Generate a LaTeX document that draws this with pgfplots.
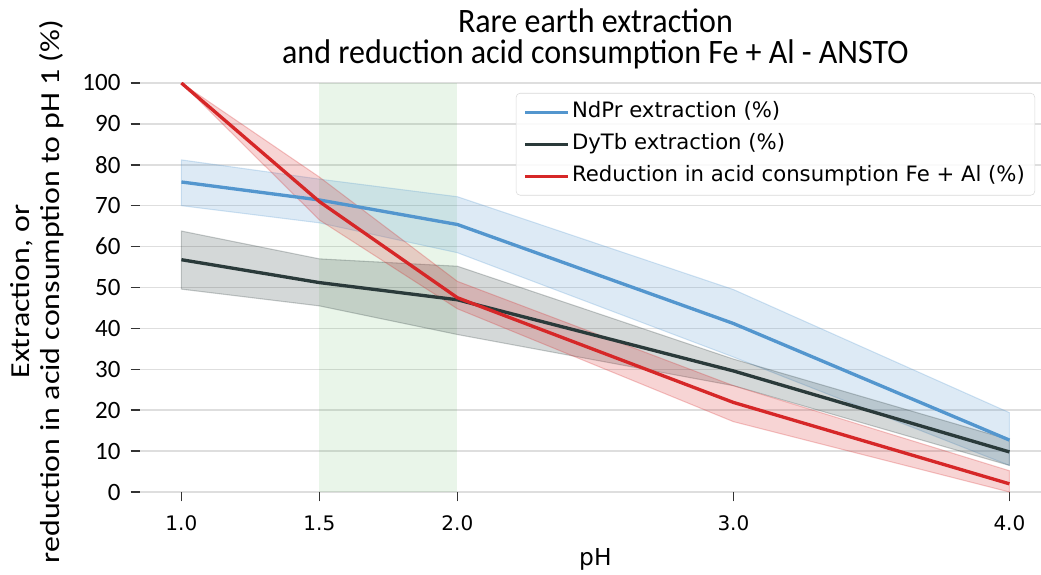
\documentclass[border=0pt]{standalone}
\usepackage{fontspec}
\setmainfont{DejaVu Sans}
\newfontfamily\carlito{Carlito}
\usepackage{pgfplots}
\pgfplotsset{compat=1.18}

\definecolor{ndpr}{RGB}{83,150,206}
\definecolor{dytb}{RGB}{42,58,58}
\definecolor{acid}{RGB}{214,39,40}
\definecolor{phband}{RGB}{44,160,44}
\definecolor{gridc}{RGB}{222,222,222}

\begin{document}
\begin{tikzpicture}
\begin{axis}[
  scale only axis, width=683.1pt, height=306.75pt,
  xmin=0.85, xmax=4.15, ymin=0, ymax=100,
  xtick={1,1.5,2,3,4}, xticklabels={1.0,1.5,2.0,3.0,4.0},
  ytick={0,10,...,100},
  ymajorgrids, grid style={gridc, line width=1.1pt},
  axis line style={draw=none},
  tick align=outside, major tick length=7pt, tick pos=left,
  tick style={black!80, line width=1.1pt},
  /pgf/number format/assume math mode=true,
  xticklabel style={font=\fontsize{15}{18}\selectfont, anchor=base, inner sep=0pt, yshift=-22pt},
  yticklabel style={font=\carlito\fontsize{18.7}{20}\selectfont, anchor=east, inner sep=0pt, xshift=-7.5pt},
  xlabel={pH},
  xlabel style={at={(axis description cs:0.5,0)}, anchor=base, yshift=-55pt, font=\fontsize{17.5}{20}\selectfont},
  ylabel={Extraction, or\\reduction in acid consumption to pH 1 (\%)},
  ylabel style={at={(axis description cs:-0.1131,0.49)}, anchor=center, align=center,
    xscale=1.16, font=\carlito\fontsize{20.6}{22.5}\selectfont},
  title={Rare earth extraction\\and reduction acid consumption Fe + Al - ANSTO},
  title style={at={(axis description cs:0.5,1)}, anchor=south, yshift=4pt, inner sep=0pt, align=center,
    yscale=1.07, font=\carlito\fontsize{24}{21.7}\selectfont},
  legend style={at={(axis description cs:0.9827,0.9756)}, anchor=north east,
    draw=black!15, rounded corners=3pt, fill=white, fill opacity=0.85, text opacity=1,
    font=\fontsize{15.9}{18}\selectfont, inner xsep=5.5pt, inner ysep=4.5pt,
    nodes={inner sep=2pt, text height=12pt, text depth=3.5pt}, row sep=4.5pt,
    /tikz/every even column/.append style={column sep=8pt}},
  legend cell align=left,
  legend image code/.code={\draw[#1] (0pt,0pt) -- (32pt,0pt);},
]

% optimal pH window
\addplot[draw=none, fill=phband, fill opacity=0.1, forget plot]
  coordinates {(1.5,0) (2,0) (2,100) (1.5,100)} -- cycle;

% uncertainty bands
\addplot[draw=ndpr, draw opacity=0.25, line width=0.8pt, fill=ndpr, fill opacity=0.2, forget plot]
  coordinates {(1,81.2) (1.5,76.5) (2,72.2) (3,49.5) (4,19.4)
               (4,6.5) (3,33.0) (2,58.5) (1.5,65.8) (1,70.0)} -- cycle;
\addplot[draw=dytb, draw opacity=0.25, line width=0.8pt, fill=dytb, fill opacity=0.2, forget plot]
  coordinates {(1,63.8) (1.5,57.0) (2,55.2) (3,32.5) (4,12.8)
               (4,6.5) (3,26.0) (2,38.5) (1.5,45.5) (1,49.6)} -- cycle;
\addplot[draw=acid, draw opacity=0.25, line width=0.8pt, fill=acid, fill opacity=0.2, forget plot]
  coordinates {(1,100) (1.5,77.0) (2,51.5) (3,26.0) (4,5.2)
               (4,0.0) (3,17.2) (2,44.8) (1.5,66.5) (1,100)} -- cycle;

% mean lines
\addplot[ndpr, line width=2.5pt] coordinates {(1,75.8) (1.5,71.4) (2,65.4) (3,41.2) (4,12.7)};
\addlegendentry{NdPr extraction (\%)}
\addplot[dytb, line width=2.5pt] coordinates {(1,56.8) (1.5,51.2) (2,47.0) (3,29.6) (4,9.8)};
\addlegendentry{DyTb extraction (\%)}
\addplot[acid, line width=2.5pt] coordinates {(1,100) (1.5,71.0) (2,47.5) (3,21.9) (4,2.0)};
\addlegendentry{Reduction in acid consumption Fe + Al (\%)}

\end{axis}
\pgfresetboundingbox
\path (-105pt,-61.5pt) rectangle (675.75pt,369pt);
\end{tikzpicture}
\end{document}
